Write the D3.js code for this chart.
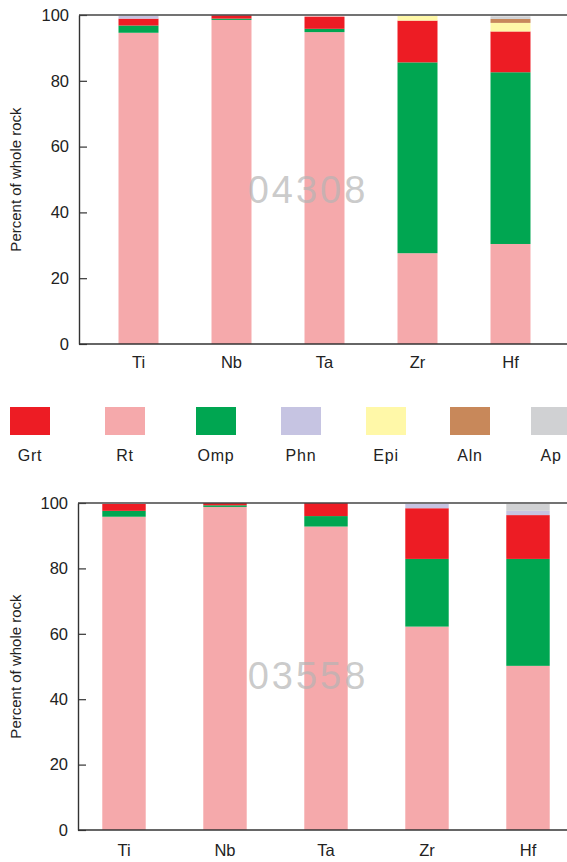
<!DOCTYPE html>
<html>
<head>
<meta charset="utf-8">
<script src="https://cdn.jsdelivr.net/npm/d3@7"></script>
<style>
  html, body { margin: 0; padding: 0; background: #fff; }
  svg { display: block; font-family: "Liberation Sans", Arial, Helvetica, sans-serif; }
</style>
</head>
<body>
<svg id="chart" width="567" height="862"></svg>
<script>
// Elements on the x axis
const elements = ["Ti", "Nb", "Ta", "Zr", "Hf"];

// Minerals, in stacking order (bottom to top)
const stackOrder = ["Rt", "Omp", "Grt", "Phn", "Epi", "Aln", "Ap"];
// Minerals, in legend order
const legendOrder = ["Grt", "Rt", "Omp", "Phn", "Epi", "Aln", "Ap"];
const mineralColors = ["#ed1c24", "#f5a9ab", "#00a651", "#c6c4e2", "#fff8a8", "#c8885a", "#d0d1d3"];

// Sample 04308: percent of whole-rock budget held by each mineral
const rt04308  = [94.6, 98.5, 94.8, 27.6, 30.4];
const omp04308 = [ 2.2,  0.4,  1.0, 58.0, 52.2];
const grt04308 = [ 2.1,  1.0,  3.7, 12.7, 12.4];
const phn04308 = [ 0.8,  0.0,  0.0,  0.0,  0.0];
const epi04308 = [ 0.0,  0.0,  0.0,  1.4,  2.6];
const aln04308 = [ 0.0,  0.0,  0.0,  0.0,  1.2];
const ap04308  = [ 0.0,  0.0,  0.0,  0.0,  0.8];

// Sample 03558
const rt03558  = [95.8, 98.8, 92.8, 62.2, 50.2];
const omp03558 = [ 1.8,  0.5,  3.2, 20.7, 32.7];
const grt03558 = [ 2.1,  0.7,  4.0, 15.5, 13.4];
const phn03558 = [ 0.0,  0.0,  0.0,  1.3,  1.3];
const epi03558 = [ 0.0,  0.0,  0.0,  0.0,  0.0];
const aln03558 = [ 0.0,  0.0,  0.0,  0.0,  0.0];
const ap03558  = [ 0.0,  0.0,  0.0,  0.0,  2.1];

const yTicks = [0, 20, 40, 60, 80, 100];

const color = d3.scaleOrdinal().domain(legendOrder).range(mineralColors);
const svg = d3.select("#chart");
const FONT = "'Liberation Sans', Arial, sans-serif";

function rowsFor(series) {
  return elements.map((el, i) => {
    const row = { element: el };
    stackOrder.forEach(m => { row[m] = series[m][i]; });
    return row;
  });
}

function drawPanel(opts) {
  const { series, label, top, bottom, left, right, xRange, labelY } = opts;
  const g = svg.append("g");

  const x = d3.scaleBand()
    .domain(elements)
    .range(xRange)
    .paddingInner(0.57)
    .paddingOuter(0.285);
  const y = d3.scaleLinear().domain([0, 100]).range([bottom, top]);

  const stacked = d3.stack().keys(stackOrder)(rowsFor(series));

  g.append("g").selectAll("g")
    .data(stacked)
    .join("g")
      .attr("fill", d => color(d.key))
    .selectAll("rect")
    .data(d => d.filter(p => p[1] - p[0] > 0))
    .join("rect")
      .attr("x", d => x(d.data.element))
      .attr("width", x.bandwidth())
      .attr("y", d => y(d[1]))
      .attr("height", d => y(d[0]) - y(d[1]));

  // sample number, drawn faintly across the plot
  g.append("text")
    .attr("x", 308)
    .attr("y", y(43))
    .attr("text-anchor", "middle")
    .attr("font-size", 38)
    .attr("letter-spacing", 3)
    .attr("fill", "#b4b4b4")
    .attr("fill-opacity", 0.7)
    .text(label);

  // left axis with inward ticks
  const yAxis = d3.axisLeft(y).tickValues(yTicks).tickSizeInner(-8).tickSizeOuter(0).tickPadding(10);
  const ya = g.append("g").attr("transform", `translate(${left},0)`).call(yAxis);
  ya.select(".domain").attr("stroke", "#333").attr("stroke-width", 1.4);
  ya.selectAll(".tick line").attr("stroke", "#333").attr("stroke-width", 1.2);
  ya.selectAll(".tick text").attr("font-size", 16.5).attr("fill", "#222")
    .attr("font-family", FONT);

  // bottom axis: labels only, no tick marks
  const xAxis = d3.axisBottom(x).tickSize(0).tickPadding(10);
  const xa = g.append("g").attr("transform", `translate(0,${bottom})`).call(xAxis);
  xa.select(".domain").remove();
  xa.selectAll(".tick text").attr("font-size", 16.5).attr("fill", "#222")
    .attr("font-family", FONT)
    .attr("y", labelY - bottom).attr("dy", 0);

  // frame lines along bottom and top
  g.append("line").attr("x1", left).attr("x2", right).attr("y1", bottom).attr("y2", bottom)
    .attr("stroke", "#333").attr("stroke-width", 1.4);
  g.append("line").attr("x1", left).attr("x2", right).attr("y1", top).attr("y2", top)
    .attr("stroke", "#444").attr("stroke-width", 1.4);

  // y axis title
  g.append("text")
    .attr("transform", `translate(21,${(top + bottom) / 2}) rotate(-90)`)
    .attr("text-anchor", "middle")
    .attr("font-size", 15)
    .attr("fill", "#222")
    .text("Percent of whole rock");
}

drawPanel({
  series: { Rt: rt04308, Omp: omp04308, Grt: grt04308, Phn: phn04308, Epi: epi04308, Aln: aln04308, Ap: ap04308 },
  label: "04308",
  top: 15, bottom: 344, left: 79, right: 567,
  xRange: [92, 557],
  labelY: 368
});

drawPanel({
  series: { Rt: rt03558, Omp: omp03558, Grt: grt03558, Phn: phn03558, Epi: epi03558, Aln: aln03558, Ap: ap03558 },
  label: "03558",
  top: 503, bottom: 830, left: 78, right: 567,
  xRange: [73.5, 578.5],
  labelY: 856
});

// legend strip between the panels
const legend = svg.append("g");
const lx = d3.scaleOrdinal().domain(legendOrder).range([30, 125, 216, 301, 386, 470, 551]);
const item = legend.selectAll("g").data(legendOrder).join("g")
  .attr("transform", d => `translate(${lx(d)},0)`);
item.append("rect")
  .attr("x", -20).attr("y", 407).attr("width", 40).attr("height", 28)
  .attr("fill", d => color(d));
item.append("text")
  .attr("y", 461)
  .attr("text-anchor", "middle")
  .attr("font-size", 16)
  .attr("letter-spacing", 0.8)
  .attr("fill", "#222")
  .text(d => d);
</script>
</body>
</html>
